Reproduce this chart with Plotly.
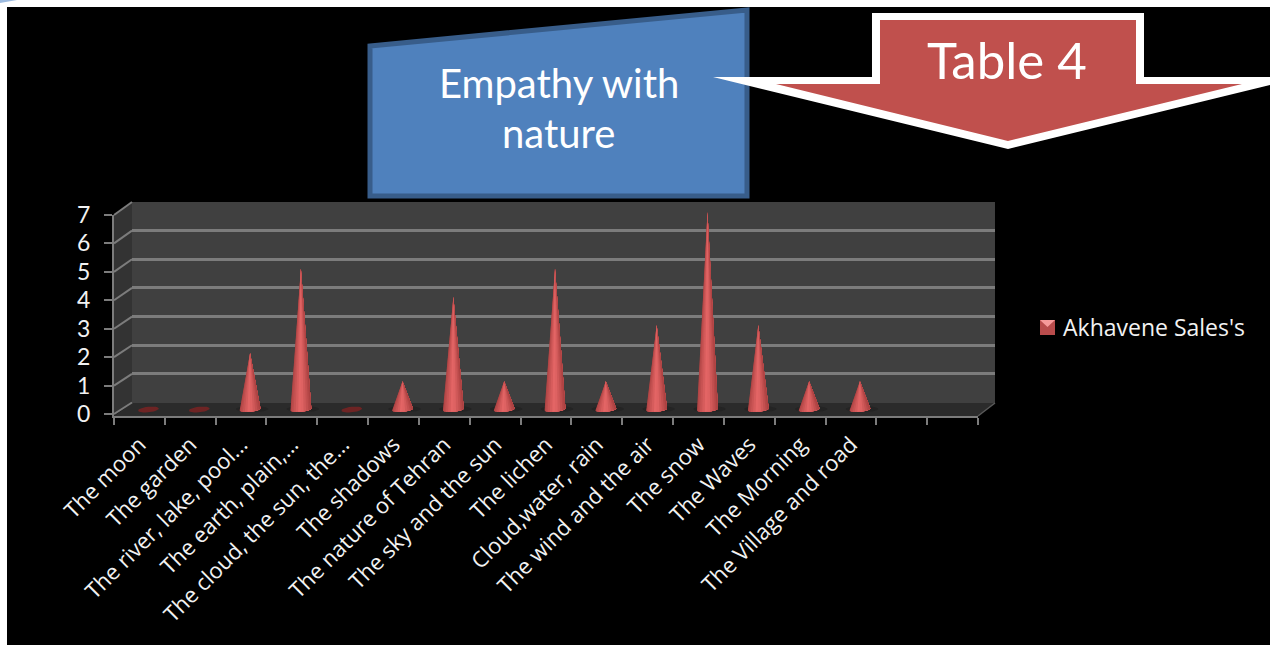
import plotly.graph_objects as go
import math

categories = ["The moon", "The garden", "The river, lake, pool...", "The earth, plain,...",
              "The cloud, the sun, the...", "The shadows", "The nature of Tehran",
              "The sky and the sun", "The lichen", "Cloud,water, rain",
              "The wind and the air", "The snow", "The Waves", "The Morning",
              "The Village and road", " ", "  "]
values = [0, 0, 2, 5, 0, 1, 4, 1, 5, 1, 3, 7, 3, 1, 1]
series_name = "Akhavene Sales's"
y_ticks = [0, 1, 2, 3, 4, 5, 6, 7]

W, H = 1270, 645
def px(x): return x / W
def py(y): return 1 - y / H
def path(pts):
    return "M" + " L".join(f"{px(x):.5f},{py(y):.5f}" for x, y in pts) + " Z"
def poly(pts, fill, line=None, lw=0, layer="below"):
    return dict(type="path", xref="paper", yref="paper", path=path(pts), fillcolor=fill,
                line=dict(color=line or "rgba(0,0,0,0)", width=lw), layer=layer)

GRID = "#7c7c7c"
shapes = [
    poly([(7, 7), (1270, 7), (1270, 645), (7, 645)], "#000000"),
    poly([(0, 0), (17, 0), (0, 3)], "#9dbbe0"),
    poly([(132, 202), (995, 202), (995, 403), (132, 403)], "#404040"),
    poly([(114, 215), (132, 202), (132, 403), (114, 416)], "#333333"),
    poly([(114, 416), (132, 403), (995, 403), (978, 416)], "#2b2b2b"),
    # callouts
    poly([(370, 46), (747, 10), (747, 196), (370, 196)], "#4f81bd", "#385d8a", 5, "above"),
    poly([(872, 13), (1144, 13), (1144, 77), (1270, 77), (1270, 85), (1008, 149), (713, 77), (872, 77)],
         "#ffffff", layer="above"),
    poly([(880, 20), (1136, 20), (1136, 84), (1242, 84), (1008, 141), (776, 84), (880, 84)],
         "#c0504d", layer="above"),
    # legend key
    poly([(1040, 320), (1055, 320), (1055, 335), (1040, 335)], "#b94c4c", layer="above"),
    poly([(1040, 320), (1055, 320), (1047.5, 327)], "#f79a9a", layer="above"),
]
for v in y_ticks:
    yf = 416 - 2 - v * 28.43
    yb = 402.5 - v * 28.64
    shapes.append(dict(type="line", xref="paper", yref="paper", x0=px(114), y0=py(yf), x1=px(132), y1=py(yb),
                       line=dict(color=GRID, width=2), layer="below"))
shapes.append(dict(type="line", xref="paper", yref="paper", x0=px(978), y0=py(416), x1=px(995), y1=py(403),
                   line=dict(color="#5a5a5a", width=1.5), layer="below"))

fig = go.Figure()

# back wall grid
fig.add_trace(go.Scatter(x=[0, 1], y=[0, 7], mode="lines", line=dict(width=0), showlegend=False,
                         hoverinfo="skip", xaxis="x", yaxis="y"))
# front axes
fig.add_trace(go.Scatter(x=categories, y=values + [None, None], mode="lines", line=dict(width=0),
                         showlegend=False, hoverinfo="skip", xaxis="x2", yaxis="y2"))

# cones drawn on a linear axis, offset to mid-depth of the floor
W_CONE, H_BASE, TILT = 0.205, 0.085, 0.035
positions = list(range(len(values)))

def base_pt(p, t):
    return p + W_CONE * math.sin(t), -H_BASE * math.cos(t) + TILT * math.sin(t)

def shade(t):
    light = max(0.0, 1 - abs(t + 0.05) / 0.95)
    c0, c1 = (172, 66, 66), (232, 104, 104)
    return "rgb(" + ",".join(str(int(a + (b - a) * light ** 0.8)) for a, b in zip(c0, c1)) + ")"

# floor shadows and empty-value discs
sx, sy = [], []
zx, zy = [], []
for p, v in zip(positions, values):
    n = 24
    for k in range(n + 1):
        a = 2 * math.pi * k / n
        if v > 0:
            sx.append(p + 0.04 + 0.32 * math.cos(a)); sy.append(0.02 + 0.11 * math.sin(a))
        else:
            zx.append(p + W_CONE * math.cos(a))
            zy.append(H_BASE * 1.15 * math.sin(a) + TILT * math.cos(a))
    if v > 0:
        sx.append(None); sy.append(None)
    else:
        zx.append(None); zy.append(None)
fig.add_trace(go.Scatter(x=sx, y=sy, mode="lines", fill="toself", fillcolor="rgba(20,20,20,0.3)",
                         line=dict(width=0), showlegend=False, hoverinfo="skip", xaxis="x3", yaxis="y3"))
fig.add_trace(go.Scatter(x=zx, y=zy, mode="lines", fill="toself", fillcolor="#6e2424",
                         line=dict(width=0), showlegend=False, hoverinfo="skip", xaxis="x3", yaxis="y3"))

# painter's approach: each strip covers everything to its right, so no seams show
STRIPS = 12
ARC = 16
for s in range(STRIPS):
    t0 = -math.pi / 2 + math.pi * s / STRIPS
    tmid = -math.pi / 2 + math.pi * (s + 0.5) / STRIPS
    xs, ys = [], []
    for p, v in zip(positions, values):
        if v <= 0:
            continue
        pts = [base_pt(p, t0 + (math.pi / 2 - t0) * k / ARC) for k in range(ARC + 1)]
        xs += [q[0] for q in pts] + [p, pts[0][0], None]
        ys += [q[1] for q in pts] + [v, pts[0][1], None]
    fig.add_trace(go.Scatter(x=xs, y=ys, mode="lines", fill="toself", fillcolor=shade(math.sin(tmid)),
                             line=dict(width=0), showlegend=False,
                             hoverinfo="skip", xaxis="x3", yaxis="y3"))

def dom_x(a, b): return [a / W, b / W]
def dom_y(top, bottom): return [1 - bottom / H, 1 - top / H]

TITLE_FONT = "Lato, sans-serif"
FONT = "'Open Sans', sans-serif"
TEXT = "#f2f2f2"
fig.update_layout(
    width=W, height=H, autosize=False, showlegend=False,
    margin=dict(l=0, r=0, t=0, b=0),
    paper_bgcolor="#ffffff", plot_bgcolor="rgba(0,0,0,0)",
    font=dict(family=FONT, color="#ffffff"),
    shapes=shapes,
    xaxis=dict(domain=dom_x(132, 995), range=[0, 1], visible=False, fixedrange=True),
    yaxis=dict(domain=dom_y(202, 402.5), range=[0, 7], tickvals=y_ticks, showticklabels=False,
               showgrid=True, gridcolor=GRID, gridwidth=2.5, zeroline=False, showline=False, ticks="",
               fixedrange=True, anchor="x"),
    xaxis2=dict(domain=dom_x(114, 978), type="category", categoryorder="array", categoryarray=categories,
                range=[-0.5, 16.5], tickson="boundaries", ticks="outside", ticklen=7, tickwidth=2,
                tickcolor=GRID, showline=True, linecolor=GRID, linewidth=2, showgrid=False, zeroline=False,
                tickangle=-45, tickfont=dict(size=22, color=TEXT, family=FONT), anchor="y2",
                ticklabelstandoff=5,
                tickmode="array", tickvals=categories, ticktext=categories, automargin=False, fixedrange=True),
    yaxis2=dict(domain=dom_y(215, 416), range=[-2 / 28.43, 7], tickvals=y_ticks, ticks="outside", ticklen=8,
                tickwidth=2, tickcolor=GRID, showline=True, linecolor=GRID, linewidth=2, showgrid=False,
                zeroline=False, tickfont=dict(size=23, color=TEXT, family=TITLE_FONT), anchor="x2",
                ticklabelstandoff=9, automargin=False, fixedrange=True),
    xaxis3=dict(domain=dom_x(123, 987), range=[-0.5, 16.5], visible=False, fixedrange=True, anchor="y3"),
    yaxis3=dict(domain=dom_y(200, 420), range=[-(420 - 409.5) / 28.2, (409.5 - 200) / 28.2], visible=False,
                fixedrange=True, anchor="x3"),
    annotations=[
        dict(text="Empathy with", xref="paper", yref="paper", x=px(559), y=py(83), showarrow=False,
             xanchor="center", yanchor="middle", font=dict(size=40, color="#ffffff", family=TITLE_FONT)),
        dict(text="nature", xref="paper", yref="paper", x=px(558), y=py(133), showarrow=False,
             xanchor="center", yanchor="middle", font=dict(size=40, color="#ffffff", family=TITLE_FONT)),
        dict(text="Table 4", xref="paper", yref="paper", x=px(1007), y=py(60), showarrow=False,
             xanchor="center", yanchor="middle", font=dict(size=51, color="#ffffff", family=TITLE_FONT)),
        dict(text=series_name, xref="paper", yref="paper", x=px(1061), y=py(327), xanchor="left", yanchor="middle",
             showarrow=False, font=dict(size=23, color=TEXT, family=FONT)),
    ],
)

fig.write_html("out.html", config={"displayModeBar": False},
               post_script="document.body.style.margin='0';document.body.style.overflow='hidden';")
